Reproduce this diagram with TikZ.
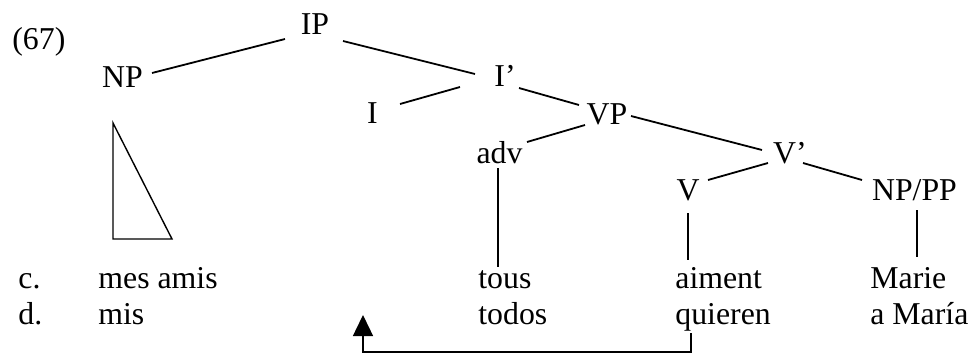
\documentclass[tikz,border=0pt]{standalone}
\usepackage{fontspec}
\setmainfont{Liberation Serif}
\usetikzlibrary{arrows.meta}
\begin{document}
\begin{tikzpicture}[x=0.5pt,y=-0.5pt,
  lbl/.style={inner sep=0pt,anchor=base,font=\fontsize{15.9}{19}\selectfont},
  word/.style={inner sep=0pt,anchor=base west,font=\fontsize{15.9}{19}\selectfont},
  edge/.style={line width=0.9pt}]
\useasboundingbox (0,0) rectangle (971,354);
% example number
\node[word] (ex) at (12,49) {(67)};
% tree labels
\node[lbl] (IP) at (315,34) {IP};
\node[lbl] (NP) at (122.5,87) {NP};
\node[lbl] (Ibar) at (505,86) {I’};
\node[lbl] (I) at (372.5,123) {I};
\node[lbl] (VP) at (607,124) {VP};
\node[lbl] (adv) at (499.5,163) {adv};
\node[lbl] (Vbar) at (790,163) {V’};
\node[lbl] (V) at (688,200) {V};
\node[lbl] (NPPP) at (914.5,200) {NP/PP};
% words
\node[word] (c) at (18,288) {c.};
\node[word] (mesamis) at (98,288) {mes amis};
\node[word] (tous) at (478,288) {tous};
\node[word] (aiment) at (675,288) {aiment};
\node[word] (Marie) at (870,288) {Marie};
\node[word] (d) at (18,324) {d.};
\node[word] (mis) at (98,324) {mis};
\node[word] (todos) at (478,324) {todos};
\node[word] (quieren) at (675,324) {quieren};
\node[word] (aMaria) at (870,324) {a María};
\coordinate (trace) at (363,315);
% branches
\draw[edge] ([shift={(29.5,-14)}]NP.base) -- ([shift={(-30,5)}]IP.base);
\draw[edge] ([shift={(28,7)}]IP.base) -- ([shift={(-30,-12)}]Ibar.base);
\draw[edge] ([shift={(-45,1)}]Ibar.base) -- ([shift={(27.5,-19)}]I.base);
\draw[edge] ([shift={(14,2)}]Ibar.base) -- ([shift={(-28,-19)}]VP.base);
\draw[edge] ([shift={(-22,1)}]VP.base) -- ([shift={(27.5,-21)}]adv.base);
\draw[edge] ([shift={(24,-8)}]VP.base) -- ([shift={(-28,-13)}]Vbar.base);
\draw[edge] ([shift={(-22,0)}]Vbar.base) -- ([shift={(20,-20)}]V.base);
\draw[edge] ([shift={(13,0)}]Vbar.base) -- ([shift={(-52.5,-20)}]NPPP.base);
% lexical lines
\draw[edge] ([shift={(-1.5,5)}]adv.base) -- ([shift={(20,-21)}]tous.base west);
\draw[edge] ([shift={(0,13)}]V.base) -- ([shift={(13,-28)}]aiment.base west);
\draw[edge] ([shift={(2.5,10)}]NPPP.base) -- ([shift={(47,-31)}]Marie.base west);
% triangle
\draw[line width=0.7pt] ([shift={(-9.5,36)}]NP.base) -- ([shift={(15,-49)}]mesamis.base west) -- ([shift={(74,-49)}]mesamis.base west) -- cycle;
% movement arrow
\draw[line width=0.7pt,-{Triangle[length=10.5pt,width=10pt]}] ([shift={(16,9)}]quieren.base west) -- ++(0,19) -| (trace);
\end{tikzpicture}
\end{document}
